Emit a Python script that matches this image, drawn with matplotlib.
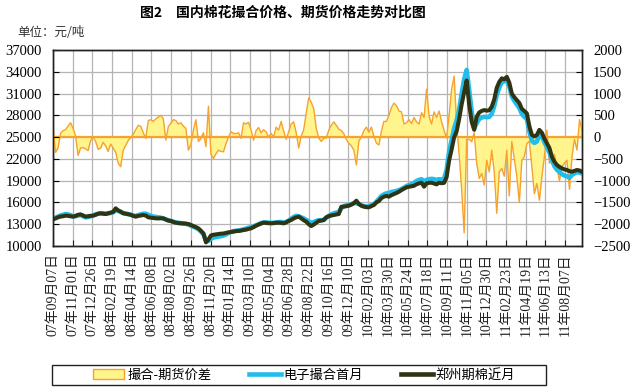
import numpy as np
import pandas as pd
import matplotlib
matplotlib.use('Agg')
import matplotlib.pyplot as plt
from matplotlib.patches import Patch, Rectangle
from matplotlib.lines import Line2D

plt.rcParams['font.family'] = ['Noto Sans CJK SC', 'DejaVu Sans']
plt.rcParams['axes.unicode_minus'] = True

# 周数据: 2007-09-07 起, 每周一个值
start_date = '2007-09-07'
n_weeks = 212

# 撮合-期货价差 (右轴, 元/吨)
spread = [
    250, -350, -250, 80, 150, 170, 250, 330, 200, 30,
    -420, -250, -240, -270, -310, -80, 0, -100, -280, -250,
    -120, -200, -330, -160, -250, -350, -600, -680, -300, -190,
    -80, -10, 60, 170, 270, 250, 100, -30, 380, 400,
    360, 420, 460, 500, 420, -70, 240, 320, 400, 380,
    300, 330, 250, 200, -300, -180, 160, 400, -100, -30,
    100, -220, 710, -400, -490, -380, -300, -330, -335, -150,
    0, 120, 85, 80, 100, -30, 330, 300, 340, 160,
    -70, 150, 220, 100, 170, 120, 0, 85, 0, 230,
    160, 360, 140, -50, 120, 300, 350, 100, -250, 20,
    170, 560, 900, 800, 650, 200, -20, -100, -30, -20,
    160, 270, 350, 270, 180, 150, 80, -50, -140, -200,
    -300, -640, -90, 0, 150, 230, 110, 230, 20, -140,
    -180, 140, 360, 360, 500, 680, 780, 720, 600, 580,
    300, 330, 400, 310, 450, 350, 300, 560, 450, 1100,
    480, 300, 580, 450, 600, 350, 150, -20, 500, 1100,
    1400, 300, -400, -1200, -2200, -50, -50, -105, 100, -600,
    -950, -835, -1100, -530, -800, -300, -800, -1750, -800, -720,
    -900, -300, -1350, -100, -500, -900, -1500, -530, -450, -145,
    -100, -680, -1300, -1065, -1450, -910, -450, 160, -600, -530,
    -400, -680, -1000, -680, -600, -530, -1200, -450, -50, -300,
    400, 160,
]

# 电子撮合首月 (左轴)
spot = [
    13750, 13900, 14050, 14200, 14300, 14400, 14350, 14250, 14100, 14100,
    14200, 14250, 14100, 13950, 14000, 14100, 14200, 14350, 14450, 14500,
    14500, 14450, 14500, 14550, 14650, 14900, 14850, 14700, 14550, 14450,
    14400, 14300, 14200, 14150, 14250, 14350, 14450, 14450, 14300, 14150,
    14050, 14000, 13950, 13900, 13800, 13650, 13550, 13450, 13350, 13250,
    13200, 13150, 13100, 13050, 12950, 12800, 12650, 12500, 12300, 12000,
    11600, 10800, 10700, 11000, 11150, 11250, 11300, 11350, 11450, 11600,
    11800, 11950, 12050, 12100, 12150, 12200, 12300, 12400, 12500, 12600,
    12700, 12850, 13000, 13150, 13250, 13250, 13200, 13200, 13200, 13250,
    13300, 13300, 13250, 13300, 13500, 13750, 14000, 14150, 14100, 13950,
    13800, 13600, 13400, 13200, 13300, 13450, 13550, 13550, 13600, 13900,
    14150, 14350, 14500, 14600, 14650, 15200, 15500, 15600, 15650, 15750,
    15900, 15900, 15800, 15600, 15500, 15450, 15450, 15600, 15750, 16100,
    16500, 16900, 17100, 17250, 17300, 17450, 17500, 17600, 17700, 17850,
    18050, 18250, 18400, 18500, 18700, 18950, 19100, 19200, 18900, 19100,
    19200, 19250, 19200, 19100, 19200, 19150, 19300, 20500, 23000, 24600,
    26200, 27300, 28800, 31000, 33000, 34250, 31500, 28500, 26200, 26900,
    27500, 27700, 27800, 27750, 27800, 28200, 29300, 30800, 31800, 32600,
    32700, 32800, 32000, 30600, 30000, 29500, 29000, 28200, 27800, 27500,
    25800, 24500, 24200, 24400, 25300, 25100, 24300, 23600, 22900, 21800,
    21000, 20500, 20200, 19900, 19700, 19600, 19400, 19800, 20000, 20200,
    20100, 20000,
]

# 郑州期棉近月 (左轴)
futures = [
    13670, 13800, 13950, 14050, 14100, 14180, 14150, 14100, 14040, 14150,
    14300, 14360, 14200, 14050, 14100, 14150, 14180, 14300, 14450, 14500,
    14450, 14400, 14500, 14590, 14700, 15190, 14900, 14730, 14500, 14450,
    14380, 14300, 14150, 14040, 14150, 14200, 14270, 14200, 13950, 13900,
    13850, 13810, 13800, 13820, 13810, 13650, 13500, 13450, 13300, 13210,
    13150, 13130, 13120, 13080, 13030, 12900, 12750, 12600, 12430, 12100,
    11740, 10500, 10900, 11450, 11550, 11600, 11650, 11700, 11720, 11800,
    11880, 11930, 11980, 12050, 12070, 12120, 12200, 12250, 12350, 12430,
    12600, 12800, 12950, 13100, 13210, 13180, 13150, 13120, 13150, 13200,
    13210, 13180, 13120, 13250, 13450, 13580, 13800, 13950, 14040, 13810,
    13550, 13350, 13000, 12750, 12950, 13200, 13450, 13500, 13580, 13950,
    14100, 14200, 14270, 14350, 14410, 15400, 15420, 15480, 15550, 15700,
    15900, 16240, 15780, 15550, 15420, 15350, 15330, 15500, 15650, 16000,
    16200, 16600, 16800, 16890, 16800, 17000, 17160, 17300, 17480, 17700,
    17900, 18080, 18170, 18220, 18300, 18500, 18630, 18720, 18170, 18630,
    18700, 18720, 18600, 18490, 18720, 18650, 18700, 19500, 21800, 23300,
    25000, 25800, 27500, 29500, 31200, 32800, 29500, 27100, 26000, 27800,
    28400, 28600, 28730, 28640, 28700, 29190, 30200, 31800, 32600, 33100,
    32960, 33300, 32500, 31000, 30500, 30110, 29700, 28900, 28600, 28280,
    26500, 25300, 25100, 25290, 26000, 25600, 24800, 24140, 23500, 22300,
    21600, 21160, 20900, 20700, 20550, 20470, 20300, 20240, 20350, 20470,
    20400, 20240,
]

tick_labels = [
    '07年09月07日', '07年11月01日', '07年12月26日', '08年02月19日', '08年04月14日',
    '08年06月08日', '08年08月02日', '08年09月26日', '08年11月20日', '09年01月14日',
    '09年03月10日', '09年05月04日', '09年06月28日', '09年08月22日', '09年10月16日',
    '09年12月10日', '10年02月03日', '10年03月30日', '10年05月24日', '10年07月18日',
    '10年09月11日', '10年11月05日', '10年12月30日', '11年02月23日', '11年04月19日',
    '11年06月13日', '11年08月07日',
]

dates = pd.date_range(start_date, periods=n_weeks, freq='7D')
tick_dates = pd.to_datetime(tick_labels, format='%y年%m月%d日')

c_fill = '#FFF58C'
c_spread = '#F7A12E'
c_spot = '#22BDEA'
c_fut = '#2F3412'
c_grid = '#B4B4B4'
num_font = 'Liberation Serif'

fig = plt.figure(figsize=(6.37, 3.90), dpi=100)
ax2 = fig.add_axes([53 / 637, 1 - 246 / 390, 529 / 637, 196 / 390])
ax = fig.add_axes([53 / 637, 1 - 246 / 390, 529 / 637, 196 / 390], sharex=ax2)
ax.patch.set_visible(False)

# 价差面积 (右轴), 下层
ax2.yaxis.tick_right()
ax2.fill_between(dates, spread, 0, color=c_fill, lw=0, zorder=2)
ax2.plot(dates, spread, color=c_spread, lw=1.0, zorder=3)
ax2.axhline(0, color=c_spread, lw=1.6, zorder=3)
ax2.set_ylim(-2500, 2000)
ax2.set_yticks(np.arange(-2500, 2001, 500))
ax2.grid(True, color=c_grid, lw=0.9)
ax2.set_axisbelow(True)

# 价格曲线 (左轴), 上层
ax.plot(dates, spot, color=c_spot, lw=3.3, solid_joinstyle='round')
ax.plot(dates, futures, color=c_fut, lw=2.9, solid_joinstyle='round')
ax.set_ylim(10000, 37000)
ax.set_yticks(np.arange(10000, 37001, 3000))

ax.set_xlim(dates[0], dates[-1])
ax.set_xticks(tick_dates)
ax.set_xticklabels(tick_labels, rotation=90, fontsize=10,
                   family=['Liberation Serif', 'Noto Sans CJK SC'])
ax2.tick_params(axis='x', labelbottom=False, length=0)

for a in (ax, ax2):
    for s in a.spines.values():
        s.set_color('#222222')
        s.set_linewidth(1.0)
ax.tick_params(axis='x', direction='in', length=4, pad=5, colors='#222222')
ax.tick_params(axis='y', direction='in', length=4, pad=8, labelsize=10.5)
ax2.tick_params(axis='y', direction='in', length=4, pad=8, labelsize=10.5)
for lab in ax.get_yticklabels() + ax2.get_yticklabels():
    lab.set_fontfamily(num_font)

fig.text(283 / 637, 1 - 13 / 390, '图2　国内棉花撮合价格、期货价格走势对比图',
         ha='center', va='center', fontsize=10, fontweight='bold')
fig.text(17 / 637, 1 - 33 / 390, '单位：元/吨', ha='left', va='center',
         fontsize=9, color='#333333')

# 图例
fig.patches.append(Rectangle((52 / 637, 1 - 385 / 390), 494 / 637, 20 / 390,
                             transform=fig.transFigure, fill=False,
                             edgecolor='#222222', lw=1.0))
handles = [
    Patch(facecolor=c_fill, edgecolor=c_spread, lw=1.0),
    Line2D([], [], color=c_spot, lw=3.3),
    Line2D([], [], color=c_fut, lw=3.3),
]
names = ['撮合-期货价差', '电子撮合首月', '郑州期棉近月']
fig.legend(handles, names, loc='center', bbox_to_anchor=(304 / 637, 1 - 375 / 390),
           ncol=3, fontsize=9.5, frameon=False, handlelength=2.4, handleheight=0.7,
           columnspacing=2.9, handletextpad=0.2, borderpad=0, borderaxespad=0)

fig.savefig('out.png', dpi=100, facecolor='white')
